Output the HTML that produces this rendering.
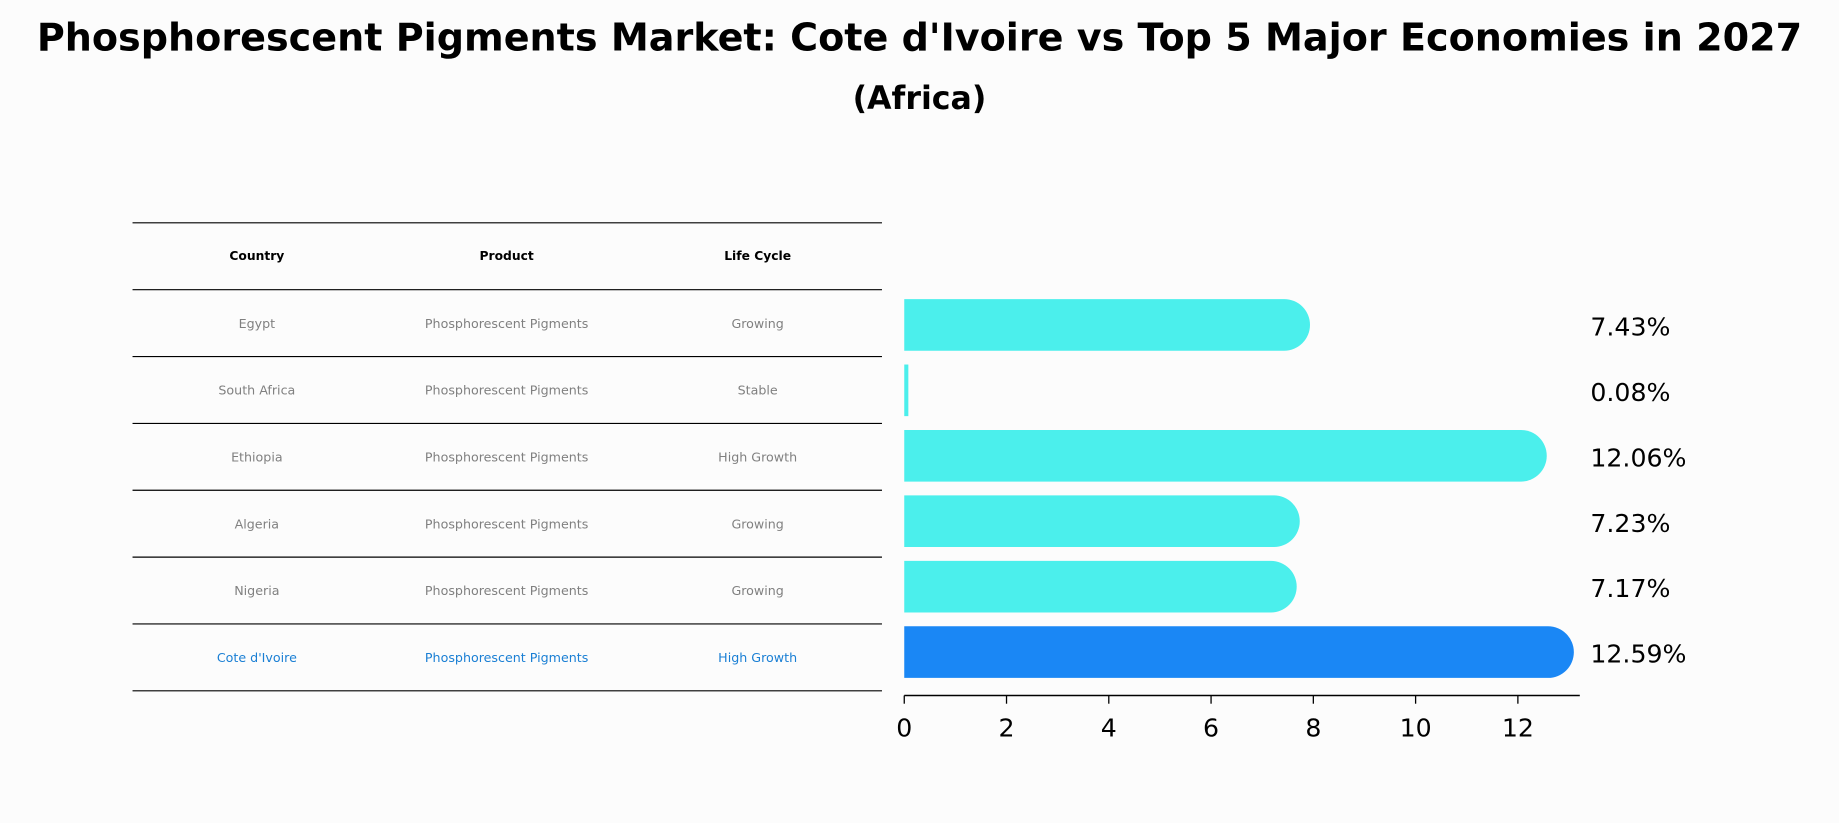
<!DOCTYPE html>
<html><head><meta charset="utf-8"><style>
body{margin:0;background:#fcfcfc;font-family:"Liberation Sans","DejaVu Sans",sans-serif;}
</style></head><body>
<svg width="1839" height="823" viewBox="0 0 1568 701.7" xmlns="http://www.w3.org/2000/svg" style="font-family:'DejaVu Sans','Liberation Sans',sans-serif;display:block">
<rect width="1568" height="702" fill="#fcfcfc"/>
<text x="784" y="43" text-anchor="middle" font-size="32.5" font-weight="bold">Phosphorescent Pigments Market: Cote d'Ivoire vs Top 5 Major Economies in 2027</text>
<text x="784" y="93" text-anchor="middle" font-size="27" font-weight="bold">(Africa)</text>
<g id="table"></g>
<g id="chart"></g>
</svg>
<script>
const countries=["Egypt","South Africa","Ethiopia","Algeria","Nigeria","Cote d'Ivoire"];
const products=["Phosphorescent Pigments","Phosphorescent Pigments","Phosphorescent Pigments","Phosphorescent Pigments","Phosphorescent Pigments","Phosphorescent Pigments"];
const lifeCycles=["Growing","Stable","High Growth","Growing","Growing","High Growth"];
const values=[7.43,0.08,12.06,7.23,7.17,12.59];
const valueLabels=["7.43%","0.08%","12.06%","7.23%","7.17%","12.59%"];
const ticks=[0,2,4,6,8,10,12];
const NS="http://www.w3.org/2000/svg";
function mk(tag,attrs,parent,text){const e=document.createElementNS(NS,tag);for(const k in attrs)e.setAttribute(k,attrs[k]);if(text!==undefined)e.textContent=text;parent.appendChild(e);return e;}
const tbl=document.getElementById('table');
const colX=[219,432,646];
const rowTop=190,rowH=57;
for(let i=0;i<=countries.length+1;i++){
  const l=mk('line',{x1:113,x2:752,y1:rowTop+i*rowH,y2:rowTop+i*rowH,stroke:'#000','stroke-width':1},tbl);
  
  
}
["Country","Product","Life Cycle"].forEach((h,j)=>{
  const t=mk('text',{x:colX[j],y:rowTop+rowH/2+3,'text-anchor':'middle','font-size':10.5,'font-weight':'bold'},tbl,h);
  
  
});
countries.forEach((c,i)=>{
  const y=rowTop+(i+1)*rowH+rowH/2+4;
  const col=i===countries.length-1?'#1a7fd4':'#808080';
  [c,products[i],lifeCycles[i]].forEach((v,j)=>{
    const t=mk('text',{x:colX[j],y:y,'text-anchor':'middle','font-size':10.8,fill:col},tbl,v);
    
    
  });
});
const ch=document.getElementById('chart');
const x0=771,pxPer=43.6;
const xs=v=>x0+v*pxPer;
const yCenters=i=>277+i*55.8;
const bh=44;
values.forEach((v,i)=>{
  const yc=yCenters(i);
  const last=i===values.length-1;
  const col=last?'#1a87f5':'#4befec';
  const w=xs(v)-x0;
  let b;
  if(w>10){
    b=mk('path',{d:`M${x0},${yc-bh/2} H${xs(v)} A${bh/2},${bh/2} 0 0 1 ${xs(v)},${yc+bh/2} H${x0} Z`,fill:col},ch);
  }else{
    b=mk('rect',{x:x0,y:yc-bh/2,width:Math.max(w,3),height:bh,fill:col},ch);
  }
  
  
  const t=mk('text',{x:1356,y:yc+9,'font-size':21.5},ch,valueLabels[i]);
  
  
});
const ax=mk('line',{x1:x0,x2:1347,y1:593,y2:593,stroke:'#000','stroke-width':1.2},ch);


ticks.forEach(tk=>{
  const l=mk('line',{x1:xs(tk),x2:xs(tk),y1:593,y2:600,stroke:'#000','stroke-width':1.1},ch);
  
  
  const t=mk('text',{x:xs(tk),y:628,'text-anchor':'middle','font-size':21.5},ch,String(tk));
  
  
});
</script>
</body></html>
